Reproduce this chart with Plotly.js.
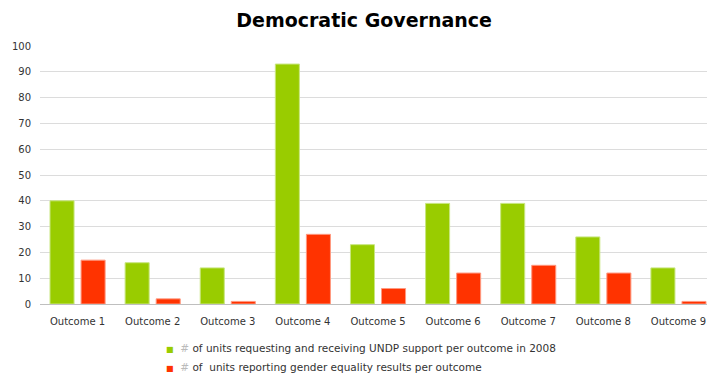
<!DOCTYPE html>
<html>
<head>
<meta charset="utf-8">
<script src="https://cdn.plot.ly/plotly-3.0.1.min.js"></script>
<style>html,body{margin:0;padding:0;background:#fff;}#chart{width:707px;height:375px;}</style>
</head>
<body>
<div id="chart"></div>
<script>
var categories = ["Outcome 1","Outcome 2","Outcome 3","Outcome 4","Outcome 5","Outcome 6","Outcome 7","Outcome 8","Outcome 9"];
var unitsRequesting = [40, 16, 14, 93, 23, 39, 39, 26, 14];
var unitsReporting = [17, 2, 1, 27, 6, 12, 15, 12, 1];
var seriesLabels = [
  '<span style="color:#bbbbbb">#</span> of units requesting and receiving UNDP support per outcome in 2008',
  '<span style="color:#bbbbbb">#</span> of  units reporting gender equality results per outcome'
];
var yTicks = [0,10,20,30,40,50,60,70,80,90,100];
var greenC = '#99cc00', redC = '#ff3300';

function legendName(color, label) {
  return '<span style="color:' + color + ';font-size:8px">■</span>  ' + label;
}

var traces = [
  {type:'bar', x:categories, y:unitsRequesting, name:seriesLabels[0], showlegend:false,
   marker:{color:greenC, line:{color:'#c8e680', width:1}}, hoverinfo:'y'},
  {type:'bar', x:categories, y:unitsReporting, name:seriesLabels[1], showlegend:false,
   marker:{color:redC, line:{color:'#ff9980', width:1}}, hoverinfo:'y'},
  {type:'scatter', mode:'markers', x:[null], y:[null], name:legendName(greenC, seriesLabels[0]),
   marker:{symbol:'square', size:0, color:'rgba(0,0,0,0)', line:{width:0}}},
  {type:'scatter', mode:'markers', x:[null], y:[null], name:legendName(redC, seriesLabels[1]),
   marker:{symbol:'square', size:0, color:'rgba(0,0,0,0)', line:{width:0}}}
];

var layout = {
  width:707, height:375,
  margin:{l:40, r:0, t:46, b:71},
  paper_bgcolor:'#ffffff', plot_bgcolor:'#ffffff',
  font:{family:'DejaVu Sans, Verdana, sans-serif', color:'#333333', size:10},
  title:{text:'<b>Democratic Governance</b>', x:0.515, xanchor:'center', y:0.945, yanchor:'middle',
         font:{family:'DejaVu Sans, Verdana, sans-serif', size:19, color:'#000000'}},
  barmode:'group', bargap:0.173, bargroupgap:0.226,
  xaxis:{type:'category', range:[-0.5, 8.38], showgrid:false, showline:true, linecolor:'#bfbfbf', linewidth:1,
         ticks:'', tickfont:{size:10, color:'#333333'}, ticklabelstandoff:8, fixedrange:true},
  yaxis:{range:[0,100], tickvals:yTicks, showgrid:true, gridcolor:'#dcdcdc', gridwidth:1,
         zeroline:false, showline:false, ticks:'', tickfont:{size:10, color:'#333333'}, ticklabelstandoff:8, fixedrange:true},
  showlegend:true,
  legend:{orientation:'v', x:0.129, xanchor:'left', yref:'container', y:0.112, yanchor:'top',
          font:{size:10.5, color:'#333333'}, tracegroupgap:0, itemwidth:30, bgcolor:'rgba(0,0,0,0)'}
};
Plotly.newPlot('chart', traces, layout, {displayModeBar:false, staticPlot:true});
</script>
</body>
</html>
